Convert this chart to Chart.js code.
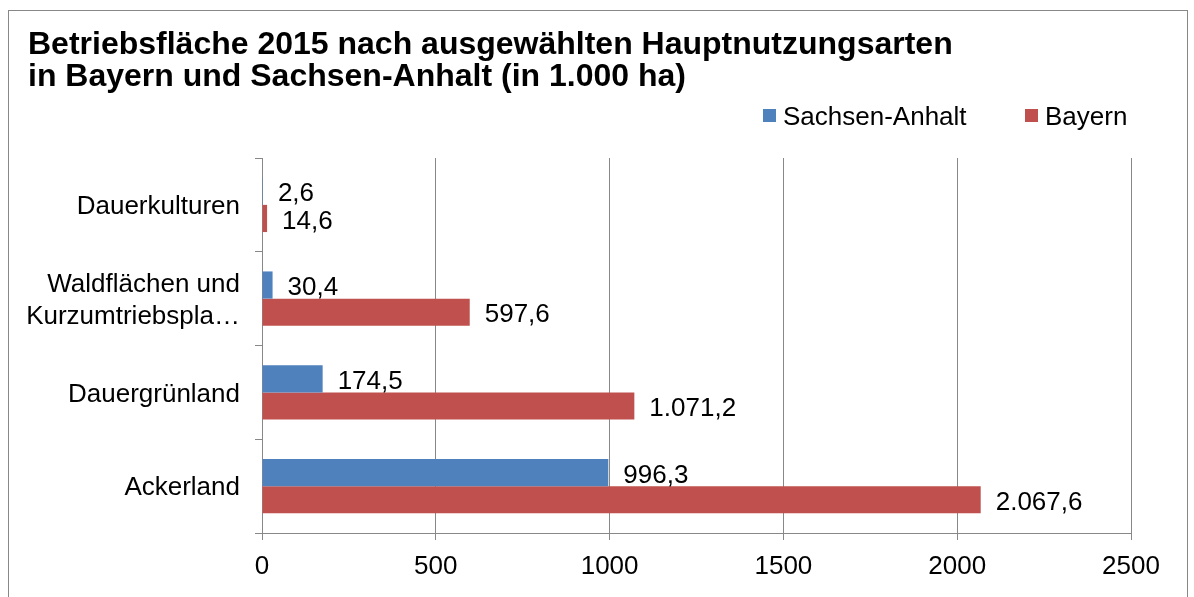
<!DOCTYPE html>
<html>
<head>
<meta charset="utf-8">
<script src="https://cdn.jsdelivr.net/npm/chart.js@4/dist/chart.umd.min.js"></script>
<style>
  html, body { margin: 0; padding: 0; background: #fff; }
  #wrap { width: 1194px; height: 597px; }
</style>
</head>
<body>
<div id="wrap"><canvas id="chart" width="1194" height="597"></canvas></div>
<script>
const titleLines = ['Betriebsfläche 2015 nach ausgewählten Hauptnutzungsarten', 'in Bayern und Sachsen-Anhalt (in 1.000 ha)'];
const categories = ['Dauerkulturen', ['Waldflächen und', 'Kurzumtriebspla…'], 'Dauergrünland', 'Ackerland'];
const seriesNames = ['Sachsen-Anhalt', 'Bayern'];
const sachsenAnhalt = [2.6, 30.4, 174.5, 996.3];
const bayern = [14.6, 597.6, 1071.2, 2067.6];
const xTicks = [0, 500, 1000, 1500, 2000, 2500];

const blue = '#4F81BD';
const red = '#C0504D';
const gridColor = '#888888';
const fontFamily = '"Liberation Sans", Arial, sans-serif';
const textSize = 26;

// 2067.6 -> "2.067,6"
function formatDe(v) {
    let parts = v.toFixed(1).split('.');
    let intPart = parts[0].replace(/\B(?=(\d{3})+(?!\d))/g, '.');
    return intPart + ',' + parts[1];
}

const framePlugin = {
    id: 'frame',
    beforeDraw(chart) {
        let ctx = chart.ctx;
        ctx.save();
        ctx.fillStyle = '#fff';
        ctx.fillRect(0, 0, chart.width, chart.height);
        ctx.strokeStyle = gridColor;
        ctx.lineWidth = 1;
        ctx.strokeRect(8.5, 10.5, 1179, 700);
        ctx.restore();
    }
};

const headerPlugin = {
    id: 'header',
    afterDraw(chart) {
        let ctx = chart.ctx;
        ctx.save();
        // title
        ctx.fillStyle = '#000';
        ctx.font = 'bold 32px ' + fontFamily;
        ctx.textBaseline = 'alphabetic';
        ctx.textAlign = 'left';
        ctx.fillText(titleLines[0], 28, 54);
        ctx.fillText(titleLines[1], 28, 86);
        // legend
        ctx.font = textSize + 'px ' + fontFamily;
        let colors = [blue, red];
        let boxX = [763, 1025];
        for (let i = 0; i < seriesNames.length; i++) {
            ctx.fillStyle = colors[i];
            ctx.fillRect(boxX[i], 109, 13, 13);
            ctx.fillStyle = '#000';
            ctx.fillText(seriesNames[i], boxX[i] + 20, 125);
        }
        ctx.restore();
    }
};

const valueLabelPlugin = {
    id: 'valueLabels',
    afterDatasetsDraw(chart) {
        let ctx = chart.ctx;
        ctx.save();
        ctx.fillStyle = '#000';
        ctx.font = textSize + 'px ' + fontFamily;
        ctx.textBaseline = 'middle';
        ctx.textAlign = 'left';
        chart.data.datasets.forEach(function (ds, di) {
            let meta = chart.getDatasetMeta(di);
            meta.data.forEach(function (bar, i) {
                ctx.fillText(formatDe(ds.data[i]), bar.x + 15, bar.y + 3);
            });
        });
        ctx.restore();
    }
};

new Chart(document.getElementById('chart').getContext('2d'), {
    type: 'bar',
    data: {
        labels: categories,
        datasets: [
            {
                label: seriesNames[0],
                data: sachsenAnhalt,
                backgroundColor: blue,
                categoryPercentage: 0.58,
                barPercentage: 1.0
            },
            {
                label: seriesNames[1],
                data: bayern,
                backgroundColor: red,
                categoryPercentage: 0.58,
                barPercentage: 1.0
            }
        ]
    },
    options: {
        indexAxis: 'y',
        responsive: false,
        animation: false,
        layout: {
            padding: { left: 28, right: 63, top: 158, bottom: 14 }
        },
        plugins: {
            legend: { display: false },
            title: { display: false },
            tooltip: { enabled: false }
        },
        scales: {
            x: {
                min: xTicks[0],
                max: xTicks[xTicks.length - 1],
                afterBuildTicks(scale) {
                    scale.ticks = xTicks.map(v => ({ value: v }));
                },
                afterFit(scale) {
                    scale.height = 50;
                },
                grid: {
                    color: gridColor,
                    lineWidth: 1,
                    drawTicks: true,
                    tickLength: 7
                },
                border: { color: gridColor },
                ticks: {
                    color: '#000',
                    padding: 11,
                    font: { family: fontFamily, size: textSize },
                    callback: function (value) {
                        return String(value);
                    }
                }
            },
            y: {
                afterFit(scale) {
                    scale.width = 234;
                },
                grid: {
                    drawOnChartArea: false,
                    drawTicks: true,
                    tickLength: 7,
                    color: gridColor,
                    offset: true
                },
                border: { color: gridColor },
                ticks: {
                    color: '#000',
                    padding: 15,
                    labelOffset: 2,
                    font: { family: fontFamily, size: textSize, lineHeight: 1.25 }
                }
            }
        }
    },
    plugins: [framePlugin, valueLabelPlugin, headerPlugin]
});
</script>
</body>
</html>
